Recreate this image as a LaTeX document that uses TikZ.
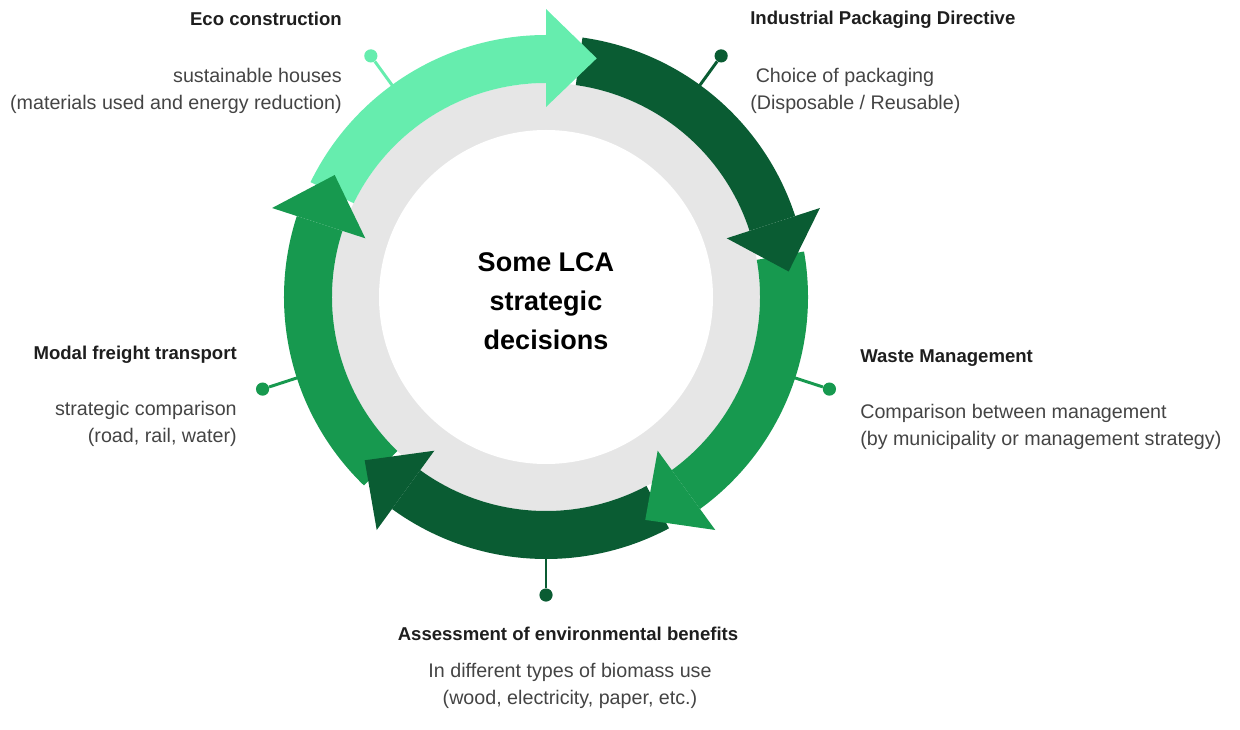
\documentclass[tikz,border=0pt]{standalone}
\usepackage{fontspec}
\setmainfont{Liberation Sans}
\definecolor{ecogreen}{HTML}{66EDAE}
\definecolor{midgreen}{HTML}{17994F}
\definecolor{deepgreen}{HTML}{0A5C33}
\definecolor{ringgray}{HTML}{E6E6E6}
\definecolor{headcol}{HTML}{1E1E1E}
\definecolor{bodycol}{HTML}{444444}

\begin{document}
\begin{tikzpicture}[x=0.025cm,y=0.025cm,
	titletext/.style={inner sep=0,text=headcol,font=\fontsize{13.2}{16}\selectfont\bfseries},
	desctext/.style={inner sep=0,text=bodycol,font=\fontsize{14}{19}\selectfont},
	pindot/.style={circle,inner sep=0,minimum size=0.33cm},
	pinstem/.style={line width=2.1pt}]
	\useasboundingbox (-546,-432) rectangle (694,297);
	% gray ring and white middle
	\fill[ringgray] (0,0) circle (214);
	\fill[white] (0,0) circle (167);
	% the five bands
	\fill[ecogreen] (154:262) arc (154:90:262) -- (90:214) arc (90:154:214) -- cycle;
	\fill[deepgreen] (82:262) arc (82:18:262) -- (18:214) arc (18:82:214) -- cycle;
	\fill[midgreen] (10:262) arc (10:-54:262) -- (-54:214) arc (-54:10:214) -- cycle;
	\fill[deepgreen] (-62:262) arc (-62:-126:262) -- (-126:214) arc (-126:-62:214) -- cycle;
	\fill[midgreen] (-134:262) arc (-134:-198:262) -- (-198:214) arc (-198:-134:214) -- cycle;
	% heads
	\fill[ecogreen] (90:190) -- (78:244) -- (90:288) -- cycle;
	\fill[deepgreen] (18:190) -- (6:244) -- (18:288) -- cycle;
	\fill[midgreen] (-54:190) -- (-66:244) -- (-54:288) -- cycle;
	\fill[deepgreen] (-126:190) -- (-138:244) -- (-126:288) -- cycle;
	\fill[midgreen] (162:190) -- (150:244) -- (162:288) -- cycle;
	% pins
	\coordinate (ecoring) at (126:261);
	\coordinate (packring) at (54:261);
	\coordinate (wastering) at (-18:261);
	\coordinate (assessring) at (-90:261);
	\coordinate (modalring) at (-162:261);
	\node[pindot,fill=ecogreen] (ecodot) at (126:298) {};
	\node[pindot,fill=deepgreen] (packdot) at (54:298) {};
	\node[pindot,fill=midgreen] (wastedot) at (-18:298) {};
	\node[pindot,fill=deepgreen] (assessdot) at (-90:298) {};
	\node[pindot,fill=midgreen] (modaldot) at (-162:298) {};
	\draw[pinstem,ecogreen] (ecoring) -- (ecodot);
	\draw[pinstem,deepgreen] (packring) -- (packdot);
	\draw[pinstem,midgreen] (wastering) -- (wastedot);
	\draw[pinstem,deepgreen] (assessring) -- (assessdot);
	\draw[pinstem,midgreen] (modalring) -- (modaldot);
	% middle text
	\node[inner sep=0,anchor=north,align=center,text=black,font=\fontsize{19.2}{28}\selectfont\bfseries] (lcatitle) at (0,45) {Some LCA\\strategic\\decisions};
	% labels
	\node[titletext,anchor=base east] (ecotitle) at (-204,271) {Eco construction};
	\node[desctext,anchor=north east,align=right] (ecotext) at (-204,229) {sustainable houses\\(materials used and energy reduction)};
	\node[titletext,anchor=base west] (packtitle) at (204,272) {Industrial Packaging Directive};
	\node[desctext,anchor=north west,align=left] (packtext) at (204,229) {\ Choice of packaging\\(Disposable / Reusable)};
	\node[titletext,anchor=base east] (modaltitle) at (-309,-62) {Modal freight transport};
	\node[desctext,anchor=north east,align=right] (modaltext) at (-309,-104) {strategic comparison\\(road, rail, water)};
	\node[titletext,anchor=base west] (wastetitle) at (314,-65) {Waste Management};
	\node[desctext,anchor=north west,align=left] (wastetext) at (314,-107) {Comparison between management\\(by municipality or management strategy)};
	\node[titletext,anchor=base] (assesstitle) at (22,-343) {Assessment of environmental benefits};
	\node[desctext,anchor=north,align=center] (assesstext) at (24,-366) {In different types of biomass use\\(wood, electricity, paper, etc.)};
\end{tikzpicture}
\end{document}
